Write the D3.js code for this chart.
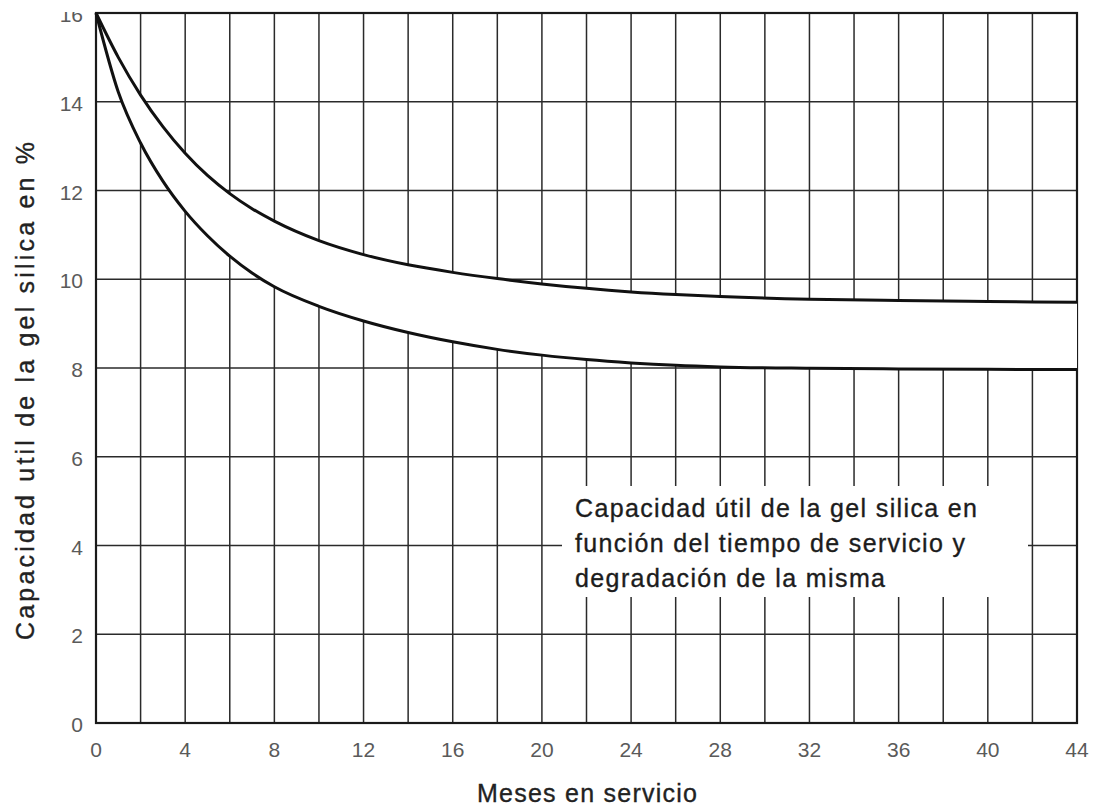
<!DOCTYPE html>
<html>
<head>
<meta charset="utf-8">
<script src="https://cdn.jsdelivr.net/npm/d3@7"></script>
<style>
  body { margin: 0; background: #fff; }
  svg { display: block; }
</style>
</head>
<body>
<svg id="chart" width="1094" height="806"></svg>
<script>
// ---- Data ----
const months = [0, 1, 2, 3, 4, 5, 6, 7, 8, 10, 12, 14, 16, 18, 20, 22, 24, 26, 28, 32, 36, 40, 44];
const upperCurve = [16, 15.0, 14.15, 13.44, 12.84, 12.34, 11.93, 11.59, 11.31, 10.87, 10.555, 10.325, 10.155, 10.015, 9.895, 9.795, 9.715, 9.655, 9.61, 9.55, 9.52, 9.5, 9.48];
const lowerCurve = [16, 14.22, 13.07, 12.21, 11.53, 10.98, 10.52, 10.14, 9.83, 9.39, 9.06, 8.80, 8.59, 8.42, 8.29, 8.19, 8.115, 8.06, 8.025, 7.995, 7.98, 7.97, 7.965];
const xTickLabels = [0, 4, 8, 12, 16, 20, 24, 28, 32, 36, 40, 44];
const yTickLabels = [0, 2, 4, 6, 8, 10, 12, 14, 16];
const xGridValues = d3.range(0, 46, 2);
const yGridValues = d3.range(0, 18, 2);
const noteLines = ["Capacidad útil de la gel silica en", "función del tiempo de servicio y", "degradación de la misma"];
const xTitle = "Meses en servicio";
const yTitle = "Capacidad util de la gel silica en %";

// ---- Layout ----
const svg = d3.select("#chart");
const mLeft = 96, mRight = 1077, mTop = 13, mBottom = 723;
const x = d3.scaleLinear().domain([0, 44]).range([mLeft, mRight]);
const y = d3.scaleLinear().domain([0, 16]).range([mBottom, mTop]);
const font = "'Liberation Sans', Arial, Helvetica, sans-serif";
const gridColor = "#2a2a2a";

// grid
svg.append("g").selectAll("line").data(xGridValues).join("line")
  .attr("x1", d => x(d)).attr("x2", d => x(d))
  .attr("y1", mTop).attr("y2", mBottom)
  .attr("stroke", gridColor).attr("stroke-width", 1.5);
svg.append("g").selectAll("line").data(yGridValues).join("line")
  .attr("x1", mLeft).attr("x2", mRight)
  .attr("y1", d => y(d)).attr("y2", d => y(d))
  .attr("stroke", gridColor).attr("stroke-width", 1.5);

// border
svg.append("rect").attr("x", mLeft).attr("y", mTop)
  .attr("width", mRight - mLeft).attr("height", mBottom - mTop)
  .attr("fill", "none").attr("stroke", "#1a1a1a").attr("stroke-width", 2.2);

// band (white between curves)
const pts = months.map((m, i) => ({ m, u: upperCurve[i], l: lowerCurve[i] }));
const curve = d3.curveMonotoneX;
svg.append("path").datum(pts)
  .attr("d", d3.area().x(d => x(d.m)).y0(d => y(d.l)).y1(d => y(d.u)).curve(curve))
  .attr("fill", "#fff");

// curves
const lineU = d3.line().x(d => x(d.m)).y(d => y(d.u)).curve(curve);
const lineL = d3.line().x(d => x(d.m)).y(d => y(d.l)).curve(curve);
svg.append("path").datum(pts).attr("d", lineU).attr("fill", "none").attr("stroke", "#111").attr("stroke-width", 3);
svg.append("path").datum(pts).attr("d", lineL).attr("fill", "none").attr("stroke", "#111").attr("stroke-width", 3);

// note box
svg.append("rect").attr("x", 562).attr("y", 486).attr("width", 466).attr("height", 111).attr("fill", "#fff");
const noteWidths = [402, 390, 310];
noteLines.forEach((t, i) => {
  svg.append("text").attr("x", 575).attr("y", 517 + i * 35)
    .attr("font-family", font).attr("font-size", 25).attr("fill", "#1c1c1c")
    .attr("stroke", "#1c1c1c").attr("stroke-width", 0.35)
    .attr("textLength", noteWidths[i]).attr("lengthAdjust", "spacing")
    .text(t);
});

// tick labels
svg.append("defs").append("clipPath").attr("id", "ylabClip")
  .append("rect").attr("x", 0).attr("y", 12).attr("width", 95).attr("height", 794);
svg.append("g").attr("clip-path", "url(#ylabClip)").selectAll("text").data(yTickLabels).join("text")
  .attr("x", 83).attr("y", d => y(d) + 1.5).attr("dy", "0.36em")
  .attr("text-anchor", "end").attr("font-family", font).attr("font-size", 21).attr("fill", "#5a5a5a")
  .text(d => d);
svg.append("g").selectAll("text").data(xTickLabels).join("text")
  .attr("x", d => x(d)).attr("y", 757)
  .attr("text-anchor", "middle").attr("font-family", font).attr("font-size", 21).attr("fill", "#5a5a5a")
  .text(d => d);

// axis titles
svg.append("text").attr("x", 477).attr("y", 802)
  .attr("font-family", font).attr("font-size", 25).attr("fill", "#222")
  .attr("stroke", "#222").attr("stroke-width", 0.35)
  .attr("textLength", 220).attr("lengthAdjust", "spacing")
  .text(xTitle);
svg.append("text").attr("transform", "translate(34,640) rotate(-90)")
  .attr("font-family", font).attr("font-size", 25).attr("fill", "#222")
  .attr("stroke", "#222").attr("stroke-width", 0.35)
  .attr("textLength", 498).attr("lengthAdjust", "spacing")
  .text(yTitle);
</script>
</body>
</html>
